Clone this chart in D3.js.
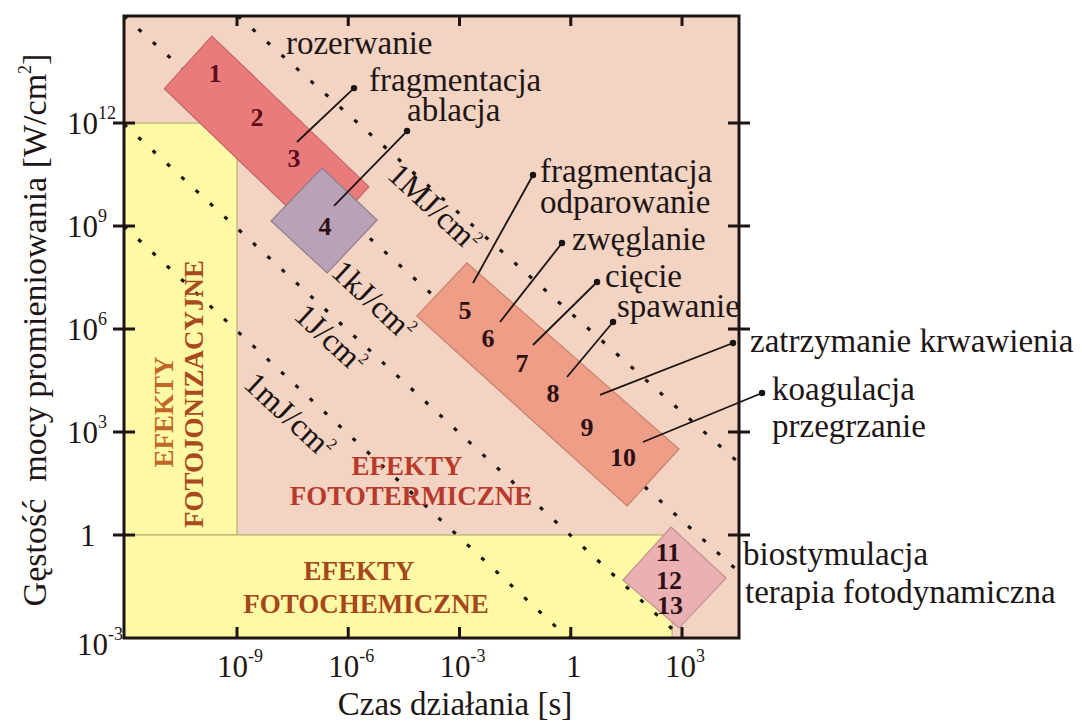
<!DOCTYPE html>
<html><head><meta charset="utf-8">
<script src="https://cdn.jsdelivr.net/npm/d3@7"></script>
<style>
body{margin:0;background:#fff}
svg{display:block}
text{font-family:"Liberation Serif","Times New Roman",serif}
</style>
</head><body>
<svg id="chart" width="1082" height="726"></svg>
<script>
// ---------- data ----------
const xDomain = [8.97e-13, 3.44e4];           // Czas działania [s]
const yDomain = [1e-3, 1.31e15];              // Gęstość mocy [W/cm2]

const xTicks = [1e-9, 1e-6, 1e-3, 1, 1e3];
const xTickBase = ["10", "10", "10", "1", "10"];
const xTickExp = ["-9", "-6", "-3", "", "3"];

const yTicks = [1e-3, 1, 1e3, 1e6, 1e9, 1e12];
const yTickBase = ["10", "1", "10", "10", "10", "10"];
const yTickExp = ["-3", "", "3", "6", "9", "12"];

// constant-fluence lines (start / end points in [t, P])
const fluenceNames = ["1mJ/cm", "1J/cm", "1kJ/cm", "1MJ/cm"];
const fluenceStart = [[8.97e-13, 1e9], [8.97e-13, 9.3e11], [8.97e-13, 1.31e15], [1.06e-9, 1.31e15]];
const fluenceEnd = [[0.843, 1e-3], [1e3, 1e-3], [3.44e4, 0.0836], [3.44e4, 125]];
const fluenceLabelAt = [[2.69e-8, 3.13e3], [3.43e-7, 5.47e5], [4.94e-6, 7.0e6], [2.18e-4, 3.57e9]];

// effect regions
const ionizT = [8.97e-13, 1e-9], ionizP = [1, 1e12];
const chemT = [8.97e-13, 540], chemP = [1e-3, 1];

// interaction areas (corner points [t, P])
const areaRed = [[2.1e-10, 3.4e14], [3.6e-6, 1.4e10], [1.8e-7, 4.2e8], [1.1e-11, 1.0e13]];
const areaPurple = [[1.96e-7, 4.9e10], [6.0e-6, 1.5e9], [2.7e-7, 4.3e7], [8.3e-9, 1.4e9]];
const areaSalmon = [[1.59e-3, 8.4e7], [830, 320], [33, 7.0], [7.1e-5, 2.4e6]];
const areaPink = [[506, 1.71], [1.54e4, 0.0558], [830, 1.95e-3], [25.6, 0.0489]];

const areaNumbers = ["1","2","3","4","5","6","7","8","9","10","11","12","13"];
const areaNumberAt = [[2.55e-10, 2.86e13], [3.46e-9, 1.5e12], [3.44e-8, 9.57e10], [2.36e-7, 1.0e9],
  [1.41e-3, 3.57e6], [5.87e-3, 5.47e5], [0.0485, 1.02e5], [0.333, 1.37e4], [2.74, 1.4e3], [25.6, 187],
  [420, 0.32], [447, 0.0489], [475, 9.14e-3]];

// leader lines
const leaderFrom = [[4.15e-8, 2.8e11], [4.13e-7, 3.83e9], [2.31e-3, 2.19e7], [0.01236, 1.6e6],
  [0.0959, 3.42e5], [0.792, 4.0e4], [6.15, 1.2e4], [88.7, 512]];
const leaderTo = [[1.43e-6, 1.04e13], [3.84e-5, 5.85e11], [0.0959, 3.05e10], [0.581, 3.2e8],
  [5.11, 2.34e7], [13.8, 1.6e6], [2.37e4, 3.91e5], [1.44e5, 1.37e4]];

// annotation texts
const noteTexts = ["rozerwanie", "fragmentacja", "ablacja", "fragmentacja", "odparowanie", "zwęglanie",
  "cięcie", "spawanie", "zatrzymanie krwawienia", "koagulacja", "przegrzanie", "biostymulacja",
  "terapia fotodynamiczna"];
const noteAt = [[2.09e-8, 1.02e14], [3.63e-6, 8.55e12], [3.84e-5, 1.14e12], [0.148, 1.91e10],
  [0.148, 2.39e9], [1.08, 2.0e8], [8.4, 1.67e7], [17.7, 2.24e6], [6.82e4, 2.14e5], [2.67e5, 8.55e3],
  [2.67e5, 715], [4.42e4, 0.134], [5.0e4, 0.0104]];

// effect labels
const effectTexts = ["EFEKTY", "FOTOJONIZACYJNE", "EFEKTY", "FOTOTERMICZNE", "EFEKTY", "FOTOCHEMICZNE"];
const effectAt = [[1.07e-11, 3.82e3], [6.92e-11, 1.28e4], [3.84e-5, 109], [4.92e-5, 13.7], [1.95e-6, 0.0893], [3.01e-6, 9.77e-3]];
const effectVertical = [true, true, false, false, false, false];

// ---------- drawing ----------
const svg = d3.select("#chart");
const x = d3.scaleLog().domain(xDomain).range([124, 739]);
const y = d3.scaleLog().domain(yDomain).range([638, 16]);
const [X0, X1] = x.range(), [Y0, Y1] = y.range();

const C = {
  bg: "#F3D3C1", yellow: "#FDF9A4", yellowEdge: "#A9A46E",
  red: "#E97C7B", redEdge: "#C36467", purple: "#B9A2B7", purpleEdge: "#8E7E8E",
  salmon: "#EE9E86", salmonEdge: "#C98069", pink: "#EBB0B1", pinkEdge: "#C29293",
  ink: "#1E1414"
};

svg.append("rect").attr("x", X0).attr("y", Y1).attr("width", X1 - X0).attr("height", Y0 - Y1).attr("fill", C.bg);

// yellow effect regions
function rectFrom(T, P) {
  svg.append("rect")
    .attr("x", x(T[0])).attr("y", y(P[1]))
    .attr("width", x(T[1]) - x(T[0])).attr("height", y(P[0]) - y(P[1]))
    .attr("fill", C.yellow).attr("stroke", C.yellowEdge).attr("stroke-width", 1);
}
rectFrom(ionizT, ionizP);
rectFrom(chemT, chemP);

// dotted fluence lines
const clip = svg.append("clipPath").attr("id", "plotclip").append("rect")
  .attr("x", X0).attr("y", Y1).attr("width", X1 - X0).attr("height", Y0 - Y1);
const gl = svg.append("g").attr("clip-path", "url(#plotclip)");
fluenceNames.forEach((n, i) => {
  gl.append("line")
    .attr("x1", x(fluenceStart[i][0])).attr("y1", y(fluenceStart[i][1]))
    .attr("x2", x(fluenceEnd[i][0])).attr("y2", y(fluenceEnd[i][1]))
    .attr("stroke", "#1a1414").attr("stroke-width", 3.2).attr("stroke-dasharray", "4 15.5");
});

// interaction areas
const poly = d3.line().x(d => x(d[0])).y(d => y(d[1])).curve(d3.curveLinearClosed);
[[areaRed, C.red, C.redEdge], [areaPurple, C.purple, C.purpleEdge],
 [areaSalmon, C.salmon, C.salmonEdge], [areaPink, C.pink, C.pinkEdge]].forEach(([pts, f, s]) => {
  svg.append("path").attr("d", poly(pts)).attr("fill", f).attr("stroke", s).attr("stroke-width", 1.2);
});

// fluence labels, rotated along the lines
const ang = Math.atan2(y(1) - y(10), x(10) - x(1)) * 180 / Math.PI;
fluenceNames.forEach((n, i) => {
  const px = x(fluenceLabelAt[i][0]), py = y(fluenceLabelAt[i][1]);
  const t = svg.append("text").attr("transform", `translate(${px},${py}) rotate(${ang})`)
    .attr("text-anchor", "middle").attr("dy", "0.35em")
    .attr("font-size", 32).attr("fill", "#1a1212");
  t.append("tspan").text(n);
  t.append("tspan").attr("font-size", 16).attr("dy", -13).text("2");
});

// effect labels
const effectColor = ["#C0672A", "#A94A1E", "#B83A2C", "#B83A2C", "#A5461B", "#A5461B"];
effectTexts.forEach((s, i) => {
  const px = x(effectAt[i][0]), py = y(effectAt[i][1]);
  svg.append("text")
    .attr("transform", `translate(${px},${py})` + (effectVertical[i] ? " rotate(-90)" : ""))
    .attr("text-anchor", "middle").attr("dy", "0.35em")
    .attr("font-size", 27).attr("font-weight", "bold").attr("fill", effectColor[i]).text(s);
});

// area numbers
areaNumbers.forEach((s, i) => {
  svg.append("text").attr("x", x(areaNumberAt[i][0])).attr("y", y(areaNumberAt[i][1]))
    .attr("text-anchor", "middle").attr("dy", "0.35em")
    .attr("font-size", 26).attr("font-weight", "bold")
    .attr("fill", i < 3 ? "#5E0E1C" : "#2E1014").text(s);
});

// leader lines
leaderFrom.forEach((a, i) => {
  const b = leaderTo[i];
  svg.append("line").attr("x1", x(a[0])).attr("y1", y(a[1])).attr("x2", x(b[0])).attr("y2", y(b[1]))
    .attr("stroke", "#1a1414").attr("stroke-width", 1.8);
  svg.append("circle").attr("cx", x(b[0])).attr("cy", y(b[1])).attr("r", 3.2).attr("fill", "#1a1414");
});

// annotation texts
noteTexts.forEach((s, i) => {
  svg.append("text").attr("x", x(noteAt[i][0])).attr("y", y(noteAt[i][1]))
    .attr("font-size", 33).attr("fill", "#1e1616").text(s);
});

// frame
svg.append("rect").attr("x", X0).attr("y", Y1).attr("width", X1 - X0).attr("height", Y0 - Y1)
  .attr("fill", "none").attr("stroke", C.ink).attr("stroke-width", 3);

// ticks
const tickG = svg.append("g").attr("stroke", C.ink).attr("stroke-width", 3);
yTicks.forEach(v => {
  if (v === yDomain[0]) return;
  tickG.append("line").attr("x1", X0 - 11).attr("x2", X0 + 11).attr("y1", y(v)).attr("y2", y(v));
  tickG.append("line").attr("x1", X1 - 11).attr("x2", X1 + 11).attr("y1", y(v)).attr("y2", y(v));
});
xTicks.forEach(v => {
  tickG.append("line").attr("x1", x(v)).attr("x2", x(v)).attr("y1", Y0).attr("y2", Y0 - 11);
  tickG.append("line").attr("x1", x(v)).attr("x2", x(v)).attr("y1", Y1).attr("y2", Y1 + 10);
});

// tick labels
yTicks.forEach((v, i) => {
  const isMin = v === yDomain[0];
  const t = svg.append("text")
    .attr("x", yTickBase[i] === "1" ? 80 : (isMin ? 77 : 67))
    .attr("y", y(v) + (isMin ? 17 : 11))
    .attr("font-size", 31).attr("fill", "#1e1616");
  t.append("tspan").text(yTickBase[i]);
  if (yTickExp[i]) t.append("tspan").attr("font-size", 18).attr("dy", -15).text(yTickExp[i]);
});
xTicks.forEach((v, i) => {
  const t = svg.append("text").attr("x", x(v) + 3).attr("y", 677)
    .attr("text-anchor", "middle").attr("font-size", 31).attr("fill", "#1e1616");
  t.append("tspan").text(xTickBase[i]);
  if (xTickExp[i]) t.append("tspan").attr("font-size", 18).attr("dy", -15).text(xTickExp[i]);
});

// axis titles
svg.append("text").attr("x", 455).attr("y", 715).attr("text-anchor", "middle")
  .attr("font-size", 33).attr("fill", "#1e1616").text("Czas działania [s]");
const yt = svg.append("text").attr("transform", "translate(46,330) rotate(-90)")
  .attr("text-anchor", "middle").attr("font-size", 34).attr("fill", "#1e1616")
  .attr("xml:space", "preserve").style("white-space", "pre");
yt.append("tspan").text("Gęstość  mocy promieniowania [W/cm");
yt.append("tspan").attr("font-size", 18).attr("dy", -15).text("2");
yt.append("tspan").attr("dy", 15).text("]");
</script>
</body></html>
